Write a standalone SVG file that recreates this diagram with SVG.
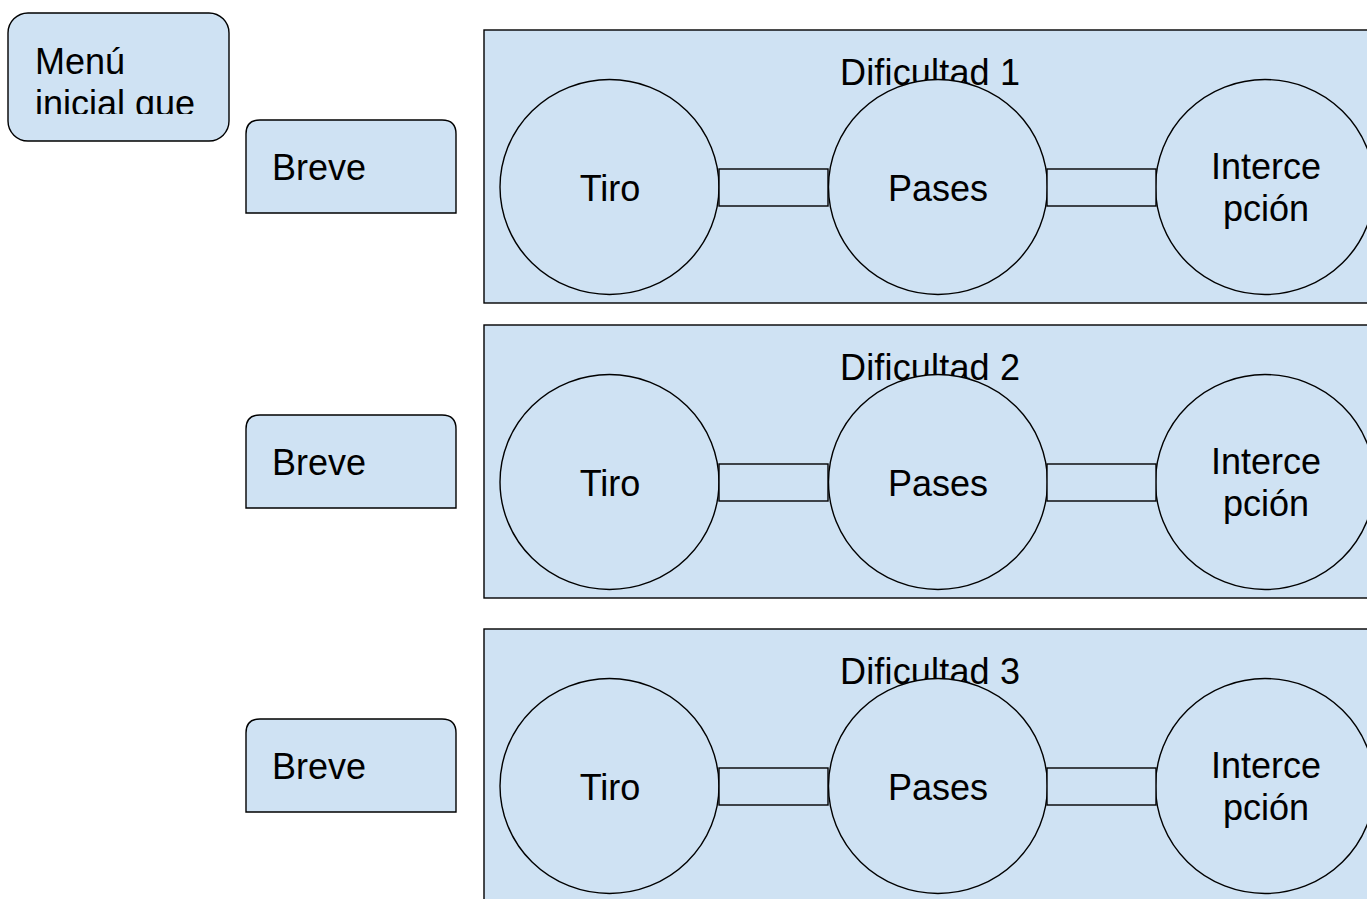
<svg xmlns="http://www.w3.org/2000/svg" width="1367" height="899" viewBox="0 0 1367 899">
<style>
.s{fill:#cfe2f3;stroke:#000;stroke-width:1.4}
.t{font-family:"Liberation Sans",Arial,sans-serif;font-size:36px;fill:#000}
.m{text-anchor:middle}
</style>
<defs>
<clipPath id="mc"><rect x="8" y="13" width="221" height="101"/></clipPath>
</defs>
<rect width="1367" height="899" fill="#fff"/>
<g id="menu">
<rect class="s" x="8" y="13" width="221" height="128" rx="20"/>
<g clip-path="url(#mc)">
<text class="t" x="35" y="74">Menú</text>
<text class="t" x="35" y="116">inicial que</text>
</g>
</g>
<g id="breve1"><path class="s" d="M246,213 V134 Q246,120 260,120 H442 Q456,120 456,134 V213 Z"/><text class="t" x="272" y="180">Breve</text></g>
<g id="breve2"><path class="s" d="M246,508 V429 Q246,415 260,415 H442 Q456,415 456,429 V508 Z"/><text class="t" x="272" y="475">Breve</text></g>
<g id="breve3"><path class="s" d="M246,812 V733 Q246,719 260,719 H442 Q456,719 456,733 V812 Z"/><text class="t" x="272" y="779">Breve</text></g>
<g id="dificultad1"><rect class="s" x="484" y="30" width="900" height="273"/><text class="t m" x="930" y="85" textLength="180">Dificultad 1</text></g>
<g id="dificultad2"><rect class="s" x="484" y="325" width="900" height="273"/><text class="t m" x="930" y="380" textLength="180">Dificultad 2</text></g>
<g id="dificultad3"><rect class="s" x="484" y="629" width="900" height="290"/><text class="t m" x="930" y="684" textLength="180">Dificultad 3</text></g>
<g id="tiro1"><ellipse class="s" cx="609.5" cy="187" rx="109.5" ry="107.5"/><text class="t m" x="610" y="201">Tiro</text></g>
<g id="pases1"><ellipse class="s" cx="938" cy="187" rx="109.5" ry="107.5"/><text class="t m" x="938" y="201">Pases</text></g>
<g id="inter1"><ellipse class="s" cx="1265" cy="187" rx="109.5" ry="107.5"/><text class="t m" x="1266" y="179">Interce</text><text class="t m" x="1266" y="221">pción</text></g>
<g id="tiro2"><ellipse class="s" cx="609.5" cy="482" rx="109.5" ry="107.5"/><text class="t m" x="610" y="496">Tiro</text></g>
<g id="pases2"><ellipse class="s" cx="938" cy="482" rx="109.5" ry="107.5"/><text class="t m" x="938" y="496">Pases</text></g>
<g id="inter2"><ellipse class="s" cx="1265" cy="482" rx="109.5" ry="107.5"/><text class="t m" x="1266" y="474">Interce</text><text class="t m" x="1266" y="516">pción</text></g>
<g id="tiro3"><ellipse class="s" cx="609.5" cy="786" rx="109.5" ry="107.5"/><text class="t m" x="610" y="800">Tiro</text></g>
<g id="pases3"><ellipse class="s" cx="938" cy="786" rx="109.5" ry="107.5"/><text class="t m" x="938" y="800">Pases</text></g>
<g id="inter3"><ellipse class="s" cx="1265" cy="786" rx="109.5" ry="107.5"/><text class="t m" x="1266" y="778">Interce</text><text class="t m" x="1266" y="820">pción</text></g>
<g id="connectors">
<rect class="s" x="719" y="169" width="109" height="37"/>
<rect class="s" x="1047" y="169" width="109" height="37"/>
<rect class="s" x="719" y="464" width="109" height="37"/>
<rect class="s" x="1047" y="464" width="109" height="37"/>
<rect class="s" x="719" y="768" width="109" height="37"/>
<rect class="s" x="1047" y="768" width="109" height="37"/>
</g>
</svg>
